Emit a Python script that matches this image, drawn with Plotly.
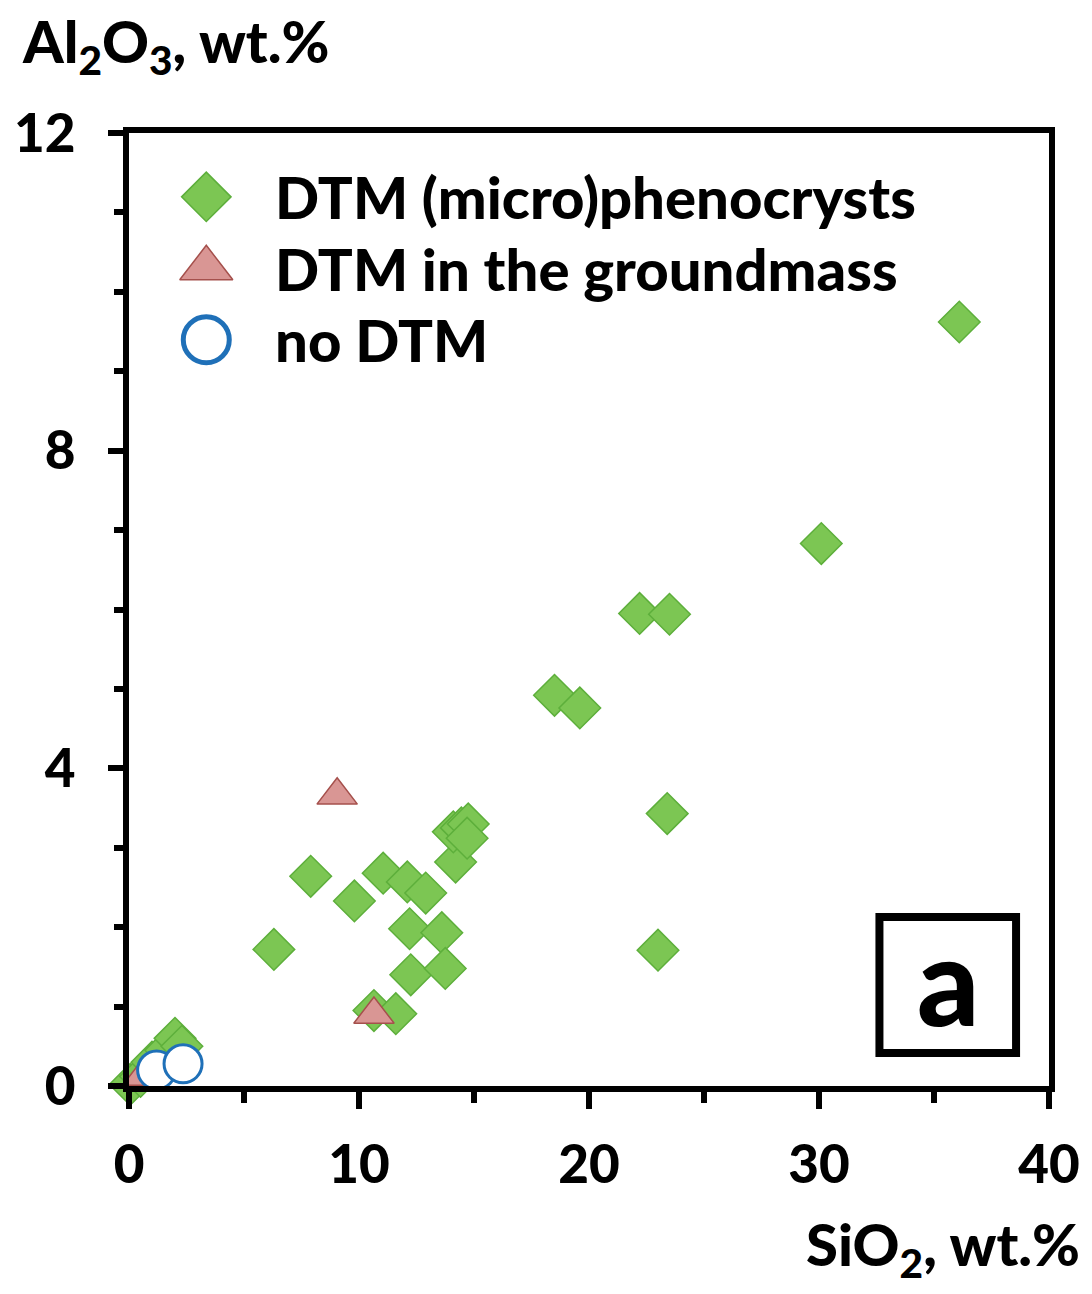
import plotly.graph_objects as go

# SiO2 vs Al2O3 (wt.%) for the three sample groups
dtm_pheno_sio2 = [36.1, 30.1, 22.2, 23.5, 18.5, 19.6, 23.4, 23.0, 6.3, 7.9, 9.8, 11.05,
                  12.1, 12.9, 12.2, 13.6, 12.25, 13.75, 14.2, 14.1, 14.45, 14.75, 14.7,
                  10.65, 11.6, 0.05, 0.5, 1.0, 1.6, 2.0, 2.3]
dtm_pheno_al2o3 = [9.62, 6.83, 5.95, 5.94, 4.92, 4.76, 3.43, 1.71, 1.72, 2.64, 2.33, 2.68,
                   2.57, 2.43, 1.98, 1.93, 1.40, 1.48, 2.82, 3.20, 3.25, 3.30, 3.12,
                   0.95, 0.91, 0.02, 0.12, 0.30, 0.45, 0.60, 0.50]

dtm_ground_sio2 = [9.05, 10.65, 0.6]
dtm_ground_al2o3 = [3.66, 0.90, 0.12]

no_dtm_sio2 = [1.2, 2.35]
no_dtm_al2o3 = [0.20, 0.28]

series_names = ["DTM (micro)phenocrysts", "DTM in the groundmass", "no DTM"]

x_ticks = [0, 10, 20, 30, 40]
y_ticks = [0, 4, 8, 12]

FONT = "Lato"
WEIGHT = 900
GREEN = "#7CC653"
GREEN_EDGE = "#5DAF3B"
PINK = "#D99694"
PINK_EDGE = "#A5504C"
BLUE = "#1F70B8"

fig = go.Figure()

fig.add_trace(go.Scatter(
    x=dtm_pheno_sio2, y=dtm_pheno_al2o3, mode="markers", name=series_names[0],
    marker=dict(symbol="diamond", size=32, color=GREEN,
                line=dict(color=GREEN_EDGE, width=1.5)),
    cliponaxis=False, showlegend=False))
fig.add_trace(go.Scatter(
    x=dtm_ground_sio2, y=dtm_ground_al2o3, mode="markers", name=series_names[1],
    marker=dict(symbol="triangle-up", size=35, color=PINK,
                line=dict(color=PINK_EDGE, width=1.5)),
    cliponaxis=False, showlegend=False))
fig.add_trace(go.Scatter(
    x=no_dtm_sio2, y=no_dtm_al2o3, mode="markers", name=series_names[2],
    marker=dict(symbol="circle", size=38, color="white",
                line=dict(color=BLUE, width=3)),
    cliponaxis=False, showlegend=False))

# Hand-built legend on an overlay axis spanning the plot area (0..1)
legend_y = [0.933, 0.858, 0.783]
legend_sym = ["diamond", "triangle-up", "circle"]
legend_size = [38, 46, 46]
legend_fill = [GREEN, PINK, "white"]
legend_edge = [GREEN_EDGE, PINK_EDGE, BLUE]
legend_lw = [1.5, 1.5, 5]
for i in range(3):
    fig.add_trace(go.Scatter(
        x=[0.084], y=[legend_y[i]], xaxis="x2", yaxis="y2", mode="markers",
        marker=dict(symbol=legend_sym[i], size=legend_size[i], color=legend_fill[i],
                    line=dict(color=legend_edge[i], width=legend_lw[i])),
        showlegend=False, hoverinfo="skip"))
    fig.add_annotation(x=0.156, y=legend_y[i], xref="paper", yref="paper",
                       text=series_names[i], showarrow=False, xanchor="left",
                       yanchor="middle",
                       font=dict(family=FONT, size=58, color="black", weight=WEIGHT))

axis_common = dict(showline=True, linewidth=6, linecolor="black", mirror=True,
                   showgrid=False, zeroline=False, ticks="outside",
                   tickwidth=6, tickcolor="black",
                   tickfont=dict(family=FONT, size=53, color="black", weight=WEIGHT))

fig.update_layout(
    width=1092, height=1294,
    margin=dict(l=129, r=40, t=133, b=208),
    paper_bgcolor="white", plot_bgcolor="white",
    xaxis=dict(range=[0, 40], tickvals=x_ticks, ticklen=17,
               minor=dict(dtick=5, ticklen=11, tickwidth=6, ticks="outside",
                          tickcolor="black", showgrid=False),
               ticklabelstandoff=10, **axis_common),
    yaxis=dict(range=[0, 12], tickvals=y_ticks, ticklen=15,
               minor=dict(dtick=1, ticklen=9, tickwidth=6, ticks="outside",
                          tickcolor="black", showgrid=False),
               ticklabelstandoff=22, **axis_common),
    xaxis2=dict(range=[0, 1], overlaying="x", anchor="y2", visible=False),
    yaxis2=dict(range=[0, 1], overlaying="y", anchor="x2", visible=False),
)

# Panel label box
fig.add_shape(type="rect", xref="paper", yref="paper",
              x0=0.8157, x1=0.9642, y0=0.0346, y1=0.1773,
              line=dict(color="black", width=8), fillcolor="rgba(0,0,0,0)")
fig.add_annotation(x=0.8905, y=0.112, xref="paper", yref="paper", text="a",
                   showarrow=False, xanchor="center", yanchor="middle",
                   font=dict(family=FONT, size=122, color="black", weight=WEIGHT))

# Axis titles
fig.add_annotation(x=-0.118, y=1.092, xref="paper", yref="paper",
                   text="Al<sub>2</sub>O<sub>3</sub>, wt.%", showarrow=False,
                   xanchor="left", yanchor="middle",
                   font=dict(family=FONT, size=58, color="black", weight=WEIGHT))
fig.add_annotation(x=1.036, y=-0.170, xref="paper", yref="paper",
                   text="SiO<sub>2</sub>, wt.%", showarrow=False,
                   xanchor="right", yanchor="middle",
                   font=dict(family=FONT, size=58, color="black", weight=WEIGHT))

fig.write_html("out.html")
